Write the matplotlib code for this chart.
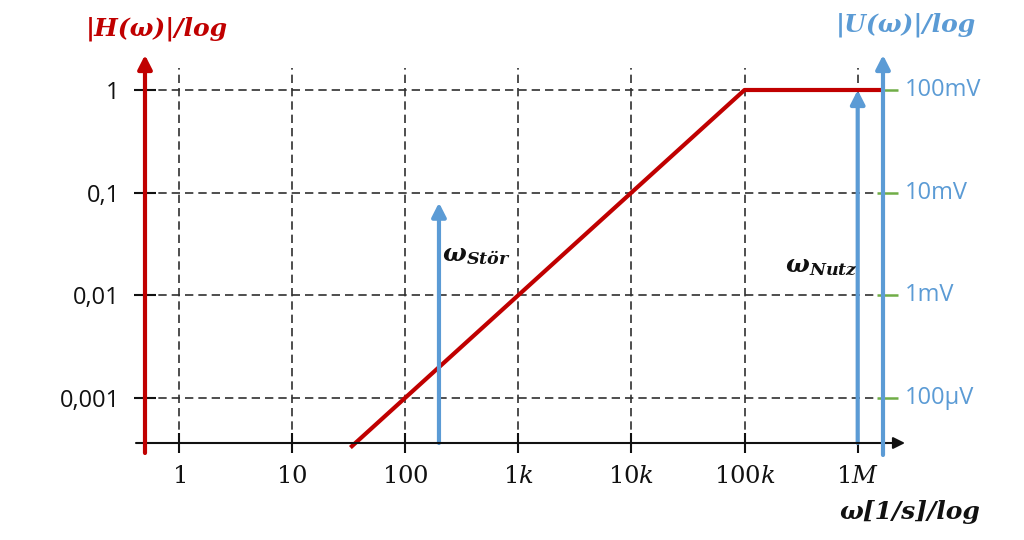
import matplotlib
matplotlib.use("Agg")
import matplotlib.pyplot as plt
from matplotlib.ticker import NullLocator

plt.rcParams['mathtext.fontset'] = 'custom'
plt.rcParams['mathtext.rm'] = 'DejaVu Serif'
plt.rcParams['mathtext.it'] = 'DejaVu Serif:italic'
plt.rcParams['mathtext.bf'] = 'DejaVu Serif:bold:italic'

# ---- data ----
omega_ticks = [1, 10, 100, 1e3, 1e4, 1e5, 1e6]
omega_labels = ['$1$', '$10$', '$100$', '$1k$', '$10k$', '$100k$', '$1M$']
H_ticks = [1, 0.1, 0.01, 0.001]
H_labels = ['1', '0,1', '0,01', '0,001']
U_labels = ['100mV', '10mV', '1mV', '100µV']
U_ref = 0.1                      # 100 mV corresponds to |H| = 1
H_omega = [33, 1e5, 1.675e6]     # piecewise |H(ω)|
H_vals = [3.3e-4, 1.0, 1.0]
U_stoer_omega, U_stoer = 200, 8e-3
U_nutz_omega, U_nutz = 1e6, 0.1

RED = '#C00000'
BLUE = '#5B9BD5'
GREEN = '#70AD47'
GRID = '#303030'

# pixel -> data helpers for layout only
def px2x(px):
    return 10 ** ((px - 178.5) / 113.2)

def py2y(py):
    return 10 ** ((90 - py) / 102.7)

fig = plt.figure(figsize=(10.24, 5.4), dpi=100)
ax = fig.add_axes([120 / 1024, 70 / 540, 800 / 1024, 430 / 540])
ax.set_xscale('log')
ax.set_yscale('log')
ax.set_xlim(px2x(120), px2x(920))
ax.set_ylim(py2y(470), py2y(40))

x_axis_y = py2y(443)
left_x = px2x(145)
right_x = px2x(883)

for s in ax.spines.values():
    s.set_visible(False)
ax.spines['bottom'].set_position(('data', x_axis_y))
ax.spines['left'].set_position(('data', left_x))

# ticks
ax.set_xticks(omega_ticks, omega_labels)
ax.set_yticks(H_ticks, H_labels)
ax.xaxis.set_minor_locator(NullLocator())
ax.yaxis.set_minor_locator(NullLocator())
ax.tick_params(axis='x', direction='inout', length=14.4, width=1.5,
               pad=8, labelsize=17.5, colors='#111111')
ax.tick_params(axis='y', direction='inout', length=16.5, width=1.5,
               pad=10, labelsize=17, colors='#111111')
for lbl in ax.get_yticklabels():
    lbl.set_fontfamily('Open Sans')

# dashed grid
dash = (0, (5, 3))
ax.vlines(omega_ticks, x_axis_y, py2y(68), colors=GRID, lw=1.2,
          linestyles=[dash], zorder=1)
ax.hlines(H_ticks, left_x, px2x(875), colors=GRID, lw=1.2,
          linestyles=[dash], zorder=1)
# green ticks on the right axis
ax.hlines(H_ticks, px2x(877), px2x(898), colors=GREEN, lw=1.8, zorder=2)

# |H(ω)| curve
ax.plot(H_omega, H_vals, color=RED, lw=3, solid_capstyle='butt', zorder=3)

def arrow(x0, y0, x1, y1, color, lw, hl=0.6, hw=0.3, ms=15, z=5):
    ax.annotate('', xy=(x1, y1), xytext=(x0, y0),
                arrowprops=dict(arrowstyle=f'-|>,head_length={hl},head_width={hw}',
                                lw=lw, color=color, mutation_scale=ms,
                                shrinkA=0, shrinkB=0),
                zorder=z, annotation_clip=False)

# axes arrows
arrow(px2x(136), x_axis_y, px2x(905), x_axis_y, '#111111', 1.5, 0.5, 0.25, 14, 5)
arrow(left_x, py2y(453), left_x, py2y(55), RED, 3, 0.55, 0.28, 15, 6)
arrow(right_x, py2y(455), right_x, py2y(55), BLUE, 3, 0.55, 0.28, 15, 6)

# spectral lines of U(ω)
arrow(U_stoer_omega, x_axis_y, U_stoer_omega, U_stoer / U_ref, BLUE, 3, 0.55, 0.28, 15, 4)
arrow(U_nutz_omega, x_axis_y, U_nutz_omega, U_nutz / U_ref, BLUE, 3, 0.55, 0.28, 15, 4)

# right-axis labels
for h, lab in zip(H_ticks, U_labels):
    ax.text(px2x(905), h, lab, color=BLUE, fontsize=17, family='Open Sans',
            ha='left', va='center')

# labels of the lines
ax.text(px2x(442), py2y(255), r'$\mathbf{\omega_{Stör}}$', fontsize=18,
        ha='left', va='center', color='#111111')
ax.text(px2x(785), py2y(266), r'$\mathbf{\omega_{Nutz}}$', fontsize=18,
        ha='left', va='center', color='#111111')

# axis titles
title_kw = dict(fontsize=18, family='DejaVu Serif', weight='bold',
                style='italic', ha='center', va='center')
fig.text(157 / 1024, 1 - 29 / 540, '|H(ω)|/log', color=RED, **title_kw)
fig.text(906 / 1024, 1 - 25 / 540, '|U(ω)|/log', color=BLUE, **title_kw)
fig.text(910 / 1024, 1 - 512 / 540, 'ω[1/s]/log', color='#111111', **title_kw)

fig.savefig('out.png', dpi=100, facecolor='white')
